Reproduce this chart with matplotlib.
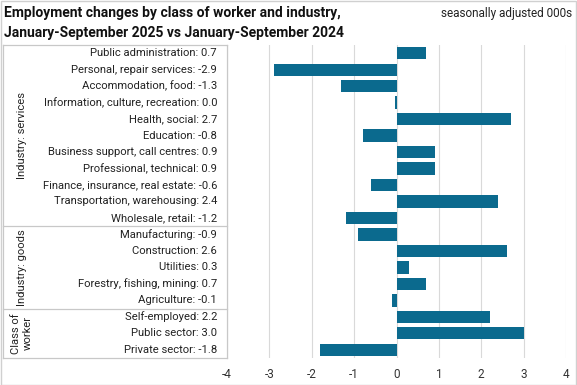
import matplotlib.pyplot as plt
from matplotlib.patches import Rectangle

# data, top to bottom
categories = ["Public administration", "Personal, repair services", "Accommodation, food",
              "Information, culture, recreation", "Health, social", "Education",
              "Business support, call centres", "Professional, technical",
              "Finance, insurance, real estate", "Transportation, warehousing",
              "Wholesale, retail", "Manufacturing", "Construction", "Utilities",
              "Forestry, fishing, mining", "Agriculture", "Self-employed",
              "Public sector", "Private sector"]
values = [0.7, -2.9, -1.3, -0.03, 2.7, -0.8, 0.9, 0.9, -0.6, 2.4, -1.2,
          -0.9, 2.6, 0.3, 0.7, -0.1, 2.2, 3.0, -1.8]
groups = ["Industry: services", "Industry: goods", "Class of\nworker"]
group_sizes = [11, 5, 3]
xticks = [-4, -3, -2, -1, 0, 1, 2, 3, 4]

plt.rcParams['font.family'] = ['Roboto', 'DejaVu Sans']

W, H = 577, 385
fig = plt.figure(figsize=(W / 100, H / 100), dpi=100)
x0, x1, ytop, ybot = 227, 566, 45, 358
ax = fig.add_axes([x0 / W, 1 - ybot / H, (x1 - x0) / W, (ybot - ytop) / H])

bar_color = '#0b6a8e'
line_color = '#c8c8c8'
n = len(categories)
ypos = list(range(n))
ax.barh(ypos, values, height=0.75, color=bar_color, zorder=3)

ax.set_xlim(-4, 4)
ax.set_ylim(n - 0.5, -0.5)
ax.set_xticks(xticks)
ax.set_xticklabels([str(t) for t in xticks], fontsize=8.5, color='#333333')
ax.tick_params(axis='x', length=0, pad=7)
ax.set_yticks([])
for s in ax.spines.values():
    s.set_visible(False)
for t in xticks:
    ax.axvline(t, color='#d9d9d9', lw=0.8, zorder=1)

# label table on the left
tr = ax.get_yaxis_transform()
left = (3 - x0) / (x1 - x0)
lab_x = (217 - x0) / (x1 - x0)
for i, (c, v) in enumerate(zip(categories, values)):
    s = f"{v:.1f}"
    if s == "-0.0":
        s = "0.0"
    ax.text(lab_x, i, f"{c}: {s}", transform=tr, ha='right', va='center',
            fontsize=8.1, color='#222222')

bounds = [-0.5]
for g in group_sizes:
    bounds.append(bounds[-1] + g)
for b in bounds:
    ax.plot([left, 0], [b, b], transform=tr, color=line_color, lw=0.9, clip_on=False)
ax.plot([left, left], [-0.5, n - 0.5], transform=tr, color=line_color, lw=0.9, clip_on=False)
ax.plot([0, 0], [-0.5, n - 0.5], transform=tr, color=line_color, lw=0.9, clip_on=False)

grp_x = (22 - x0) / (x1 - x0)
for g, a, b in zip(groups, bounds[:-1], bounds[1:]):
    ax.text(grp_x, (a + b) / 2, g, transform=tr, rotation=90, ha='center', va='center',
            fontsize=8.1, color='#222222', linespacing=1.2)

fig.text(4 / W, 1 - 13 / H, "Employment changes by class of worker and industry,",
         fontsize=10, fontweight='bold', ha='left', va='center', color='#111111')
fig.text(4 / W, 1 - 33 / H, "January-September 2025 vs January-September 2024",
         fontsize=10, fontweight='bold', ha='left', va='center', color='#111111')
fig.text(1 - 5 / W, 1 - 13 / H, "seasonally adjusted 000s", fontsize=8.5,
         ha='right', va='center', color='#222222')

fig.add_artist(Rectangle((0.5 / W, 0.5 / H), 1 - 1.5 / W, 1 - 1.5 / H,
                         transform=fig.transFigure, fill=False,
                         edgecolor='#d0d0d0', lw=1))

fig.savefig('out.png', dpi=100)
